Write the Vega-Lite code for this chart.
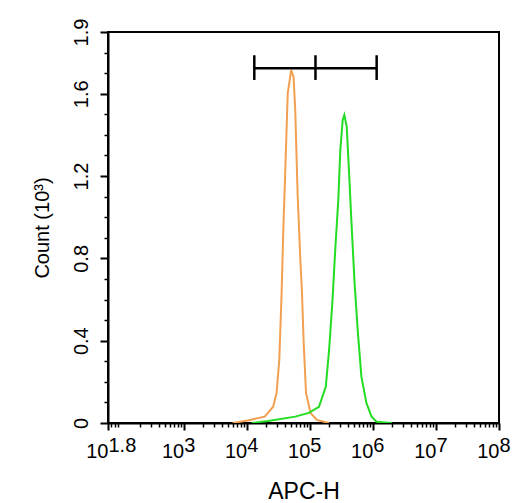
{
  "$schema": "https://vega.github.io/schema/vega-lite/v6.json",
  "width": 391,
  "height": 391,
  "autosize": "none",
  "padding": {"left": 108, "top": 32, "right": 29, "bottom": 80},
  "background": "white",
  "config": {
    "view": {"stroke": "black", "strokeWidth": 2},
    "axis": {
      "labelFont": "Liberation Sans",
      "titleFont": "Liberation Sans",
      "labelColor": "black",
      "titleColor": "black",
      "titleFontWeight": "normal",
      "domainColor": "black",
      "domainWidth": 2,
      "tickColor": "black",
      "grid": false,
      "labelOverlap": false,
      "labelFlush": false,
      "labelBound": false
    }
  },
  "datasets": {
    "curves": [
      {"series": "control", "x": 6000, "count": 0},
      {"series": "control", "x": 10375, "count": 0.012},
      {"series": "control", "x": 19280, "count": 0.031},
      {"series": "control", "x": 26240, "count": 0.079},
      {"series": "control", "x": 29720, "count": 0.146},
      {"series": "control", "x": 32810, "count": 0.306},
      {"series": "control", "x": 35730, "count": 0.632},
      {"series": "control", "x": 38110, "count": 0.954},
      {"series": "control", "x": 40550, "count": 1.197},
      {"series": "control", "x": 44670, "count": 1.602},
      {"series": "control", "x": 50700, "count": 1.715},
      {"series": "control", "x": 55210, "count": 1.683},
      {"series": "control", "x": 58750, "count": 1.521},
      {"series": "control", "x": 63970, "count": 1.118},
      {"series": "control", "x": 70790, "count": 0.792},
      {"series": "control", "x": 75160, "count": 0.632},
      {"series": "control", "x": 79980, "count": 0.389},
      {"series": "control", "x": 87100, "count": 0.146},
      {"series": "control", "x": 102600, "count": 0.049},
      {"series": "control", "x": 129700, "count": 0.015},
      {"series": "control", "x": 200000, "count": 0},
      {"series": "sample", "x": 12000, "count": 0},
      {"series": "sample", "x": 21830, "count": 0.01},
      {"series": "sample", "x": 58750, "count": 0.031},
      {"series": "sample", "x": 96380, "count": 0.049},
      {"series": "sample", "x": 139600, "count": 0.079},
      {"series": "sample", "x": 179100, "count": 0.176},
      {"series": "sample", "x": 202300, "count": 0.355},
      {"series": "sample", "x": 229100, "count": 0.598},
      {"series": "sample", "x": 252900, "count": 0.841},
      {"series": "sample", "x": 283100, "count": 1.084},
      {"series": "sample", "x": 304800, "count": 1.327},
      {"series": "sample", "x": 331900, "count": 1.472},
      {"series": "sample", "x": 353200, "count": 1.497},
      {"series": "sample", "x": 384600, "count": 1.44},
      {"series": "sample", "x": 415000, "count": 1.245},
      {"series": "sample", "x": 452900, "count": 1.002},
      {"series": "sample", "x": 512900, "count": 0.68},
      {"series": "sample", "x": 579400, "count": 0.437},
      {"series": "sample", "x": 657700, "count": 0.225},
      {"series": "sample", "x": 790700, "count": 0.097},
      {"series": "sample", "x": 952800, "count": 0.031},
      {"series": "sample", "x": 1148000, "count": 0.006},
      {"series": "sample", "x": 1995000, "count": 0}
    ],
    "gate": [
      {"x": 13180, "x2": 1148000, "y": 1.724}
    ],
    "gateEnds": [
      {"x": 13180, "y": 1.667, "y2": 1.787},
      {"x": 123000, "y": 1.667, "y2": 1.787},
      {"x": 1148000, "y": 1.667, "y2": 1.787}
    ]
  },
  "layer": [
    {
      "data": {"name": "curves"},
      "mark": {"type": "line", "strokeWidth": 2, "clip": true},
      "encoding": {
        "x": {
          "field": "x",
          "type": "quantitative",
          "scale": {"type": "log", "domain": [63.0957, 100000000], "nice": false},
          "axis": {
            "orient": "bottom",
            "values": [63.0957, 1000, 10000, 100000, 1000000, 10000000, 100000000],
            "labelExpr": "'10'",
            "labelAlign": "right",
            "labelDx": 5,
            "labelFontSize": 20,
            "labelPadding": 11,
            "tickSize": 7,
            "tickWidth": 2,
            "title": "APC-H",
            "titleFontSize": 23,
            "titleBaseline": "alphabetic",
            "titleY": 75
          }
        },
        "y": {
          "field": "count",
          "type": "quantitative",
          "scale": {"domain": [0, 1.9], "nice": false},
          "axis": {
            "orient": "left",
            "values": [0, 0.4, 0.8, 1.2, 1.6, 1.9],
            "labelExpr": "datum.value == 0 ? '0' : format(datum.value, '.1f')",
            "labelAngle": 270,
            "labelAlign": "center",
            "labelBaseline": "bottom",
            "labelFontSize": 20,
            "labelPadding": 9,
            "tickSize": 8,
            "tickWidth": 2,
            "title": "Count  (10³)",
            "titleFontSize": 20,
            "titleBaseline": "alphabetic",
            "titleX": -60
          }
        },
        "color": {
          "field": "series",
          "type": "nominal",
          "scale": {"domain": ["control", "sample"], "range": ["#f0a050", "#22dd22"]},
          "legend": null
        }
      }
    },
    {
      "data": {"name": "gate"},
      "mark": {"type": "rule", "color": "black", "strokeWidth": 2.5},
      "encoding": {
        "x": {
          "field": "x",
          "type": "quantitative",
          "scale": {"type": "log", "domain": [63.0957, 100000000], "nice": false},
          "axis": {
            "orient": "bottom",
            "values": [63.0957, 1000, 10000, 100000, 1000000, 10000000, 100000000],
            "labelExpr": "datum.value < 100 ? '1.8' : '' + round(log(datum.value) / LN10)",
            "labelAlign": "left",
            "labelDx": 8,
            "labelFontSize": 20,
            "labelPadding": 12,
            "labelDy": -6,
            "ticks": false,
            "domain": false,
            "title": null
          }
        },
        "x2": {"field": "x2"},
        "y": {
          "field": "y",
          "type": "quantitative",
          "scale": {"domain": [0, 1.9], "nice": false},
          "axis": {
            "orient": "left",
            "values": [0.1, 0.2, 0.3, 0.5, 0.6, 0.7, 0.9, 1.0, 1.1, 1.3, 1.4, 1.5, 1.7, 1.8],
            "labels": false,
            "domain": false,
            "tickSize": 4,
            "tickWidth": 1.5,
            "title": null
          }
        }
      }
    },
    {
      "data": {"name": "gateEnds"},
      "mark": {"type": "rule", "color": "black", "strokeWidth": 2.5},
      "encoding": {
        "x": {
          "field": "x",
          "type": "quantitative",
          "scale": {"type": "log", "domain": [63.0957, 100000000], "nice": false},
          "axis": {
            "orient": "bottom",
            "values": [70, 80, 90, 200, 300, 400, 500, 600, 700, 800, 900, 2000, 3000, 4000, 5000, 6000, 7000, 8000, 9000, 20000, 30000, 40000, 50000, 60000, 70000, 80000, 90000, 200000, 300000, 400000, 500000, 600000, 700000, 800000, 900000, 2000000, 3000000, 4000000, 5000000, 6000000, 7000000, 8000000, 9000000, 20000000, 30000000, 40000000, 50000000, 60000000, 70000000, 80000000, 90000000],
            "labels": false,
            "domain": false,
            "tickSize": 4,
            "tickWidth": 1.5,
            "title": null
          }
        },
        "y": {
          "field": "y",
          "type": "quantitative",
          "scale": {"domain": [0, 1.9], "nice": false},
          "axis": null
        },
        "y2": {"field": "y2"}
      }
    }
  ],
  "resolve": {"axis": {"x": "independent", "y": "independent"}}
}
